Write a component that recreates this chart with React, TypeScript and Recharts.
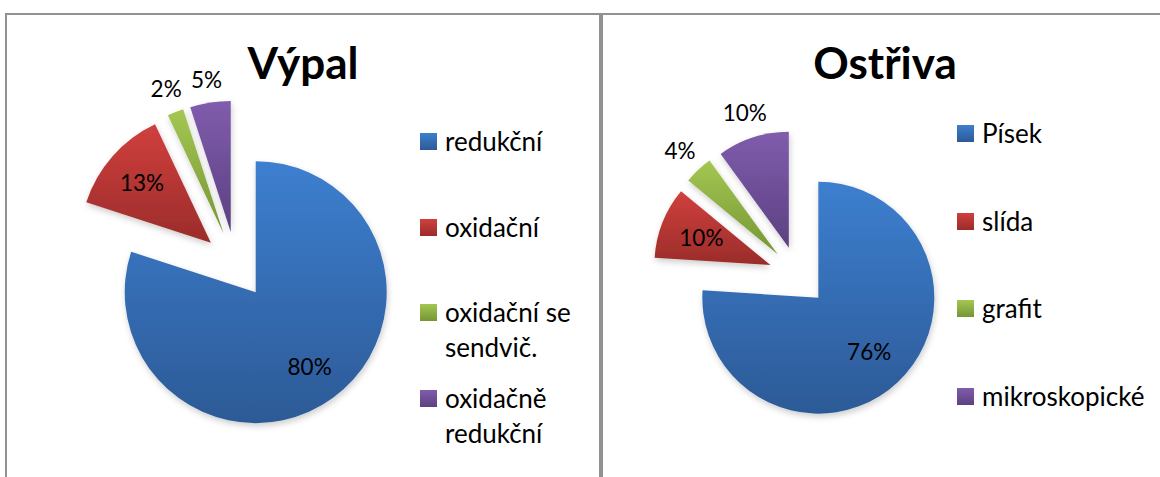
import { Cell, Legend, Pie, PieChart, Sector } from "recharts";

const vypalNames = ["redukční", "oxidační", "oxidační se sendvič.", "oxidačně redukční"];
const vypalValues = [80, 13, 2, 5];

const ostrivaNames = ["Písek", "slída", "grafit", "mikroskopické"];
const ostrivaValues = [76, 10, 4, 10];

// Excel 2007 like vertical gradients (top -> bottom)
const PALETTE = [
  { top: "#3d7fd0", bottom: "#2c5a96" },
  { top: "#d0403d", bottom: "#9a2c2a" },
  { top: "#a4c752", bottom: "#769534" },
  { top: "#805cad", bottom: "#5c4181" },
];

const FONT = "Lato, 'Open Sans', sans-serif";
const RAD = Math.PI / 180;

type PanelProps = {
  id: string;
  title: string;
  names: string[];
  values: number[];
  width: number;
  height: number;
  cx: number;
  cy: number;
  radius: number;
  titleX: number;
  titleY: number;
  legendLeft: number;
  legendTop: number;
  legendWidth: number;
  itemHeight: number;
  insideRatio: number;
  outside: number[];
};

function PiePanel(p: PanelProps) {
  const data = p.names.map((name, i) => ({ name, value: p.values[i] }));
  // every slice is pulled out along its bisector (exploded pie)
  const explode = p.radius * 0.256;
  const shift = (mid: number) => [Math.cos(-mid * RAD) * explode, Math.sin(-mid * RAD) * explode];

  const renderSector = (s: any) => {
    const [dx, dy] = shift(s.midAngle);
    return (
      <Sector
        cx={s.cx + dx}
        cy={s.cy + dy}
        innerRadius={s.innerRadius}
        outerRadius={s.outerRadius}
        startAngle={s.startAngle}
        endAngle={s.endAngle}
        fill={s.fill}
        stroke="none"
        filter={`url(#${p.id}-shadow)`}
      />
    );
  };

  const renderLabel = (l: any) => {
    const [dx, dy] = shift(l.midAngle);
    const c = Math.cos(-l.midAngle * RAD);
    const s = Math.sin(-l.midAngle * RAD);
    const text = `${Math.round(l.percent * 100)}%`;
    let dist: number;
    if (p.outside.includes(l.index)) {
      const w = text.length * 11;
      dist = l.outerRadius + 11 + (w / 2) * Math.abs(c) + 11 * Math.abs(s);
    } else {
      dist = l.outerRadius * p.insideRatio;
    }
    return (
      <text
        x={l.cx + dx + c * dist}
        y={l.cy + dy + s * dist}
        textAnchor="middle"
        dominantBaseline="central"
        fontFamily={FONT}
        fontSize={22.5}
        fill="#000"
      >
        {text}
      </text>
    );
  };

  const renderLegend = () => (
    <div style={{ width: p.legendWidth, fontFamily: FONT, fontSize: 26, lineHeight: "35px", color: "#000" }}>
      {p.names.map((name, i) => (
        <div key={name} style={{ display: "flex", alignItems: "flex-start", height: p.itemHeight }}>
          <div
            style={{
              width: 17,
              height: 17,
              marginTop: 9,
              marginRight: 8,
              flex: "none",
              background: `linear-gradient(${PALETTE[i].top}, ${PALETTE[i].bottom})`,
            }}
          />
          <div>{name}</div>
        </div>
      ))}
    </div>
  );

  return (
    <PieChart width={p.width} height={p.height} margin={{ top: 0, right: 0, bottom: 0, left: 0 }}>
      <defs>
        {PALETTE.map((c, i) => (
          <linearGradient key={i} id={`${p.id}-g${i}`} x1="0" y1="0" x2="0" y2="1">
            <stop offset="0%" stopColor={c.top} />
            <stop offset="100%" stopColor={c.bottom} />
          </linearGradient>
        ))}
        <filter id={`${p.id}-shadow`} x="-20%" y="-20%" width="140%" height="140%">
          <feDropShadow dx="1" dy="3" stdDeviation="3" floodColor="#000" floodOpacity="0.2" />
        </filter>
      </defs>
      <text
        x={p.titleX}
        y={p.titleY}
        textAnchor="middle"
        fontFamily={FONT}
        fontSize={44}
        fontWeight={700}
        fill="#000"
      >
        {p.title}
      </text>
      <Pie
        data={data}
        dataKey="value"
        nameKey="name"
        cx={p.cx}
        cy={p.cy}
        outerRadius={p.radius}
        startAngle={90}
        endAngle={-270}
        stroke="none"
        labelLine={false}
        label={renderLabel}
        shape={renderSector}
        activeShape={renderSector}
        inactiveShape={renderSector}
        isAnimationActive={false}
      >
        {data.map((d, i) => (
          <Cell key={d.name} fill={`url(#${p.id}-g${i})`} />
        ))}
      </Pie>
      <Legend
        content={renderLegend}
        layout="vertical"
        wrapperStyle={{ position: "absolute", left: p.legendLeft, top: p.legendTop, width: p.legendWidth }}
      />
    </PieChart>
  );
}

export default function App() {
  const box = {
    position: "absolute" as const,
    top: 13,
    height: 470,
    boxSizing: "border-box" as const,
    border: "2px solid #929292",
    borderBottom: "none",
    background: "#fff",
  };
  return (
    <div style={{ position: "absolute", left: 0, top: 0, width: 1160, height: 477, background: "#fff", overflow: "hidden" }}>
      <div style={{ ...box, left: 5, width: 596 }}>
        <PiePanel
          id="vypal"
          title="Výpal"
          names={vypalNames}
          values={vypalValues}
          width={592}
          height={462}
          cx={229}
          cy={250}
          radius={131}
          titleX={296}
          titleY={64}
          legendLeft={413}
          legendTop={109}
          legendWidth={170}
          itemHeight={85.5}
          insideRatio={0.7}
          outside={[2, 3]}
        />
      </div>
      <div style={{ ...box, left: 601, width: 600 }}>
        <PiePanel
          id="ostriva"
          title="Ostřiva"
          names={ostrivaNames}
          values={ostrivaValues}
          width={557}
          height={462}
          cx={195}
          cy={261}
          radius={116}
          titleX={282}
          titleY={64}
          legendLeft={354}
          legendTop={101}
          legendWidth={200}
          itemHeight={87.7}
          insideRatio={0.64}
          outside={[2, 3]}
        />
      </div>
    </div>
  );
}
